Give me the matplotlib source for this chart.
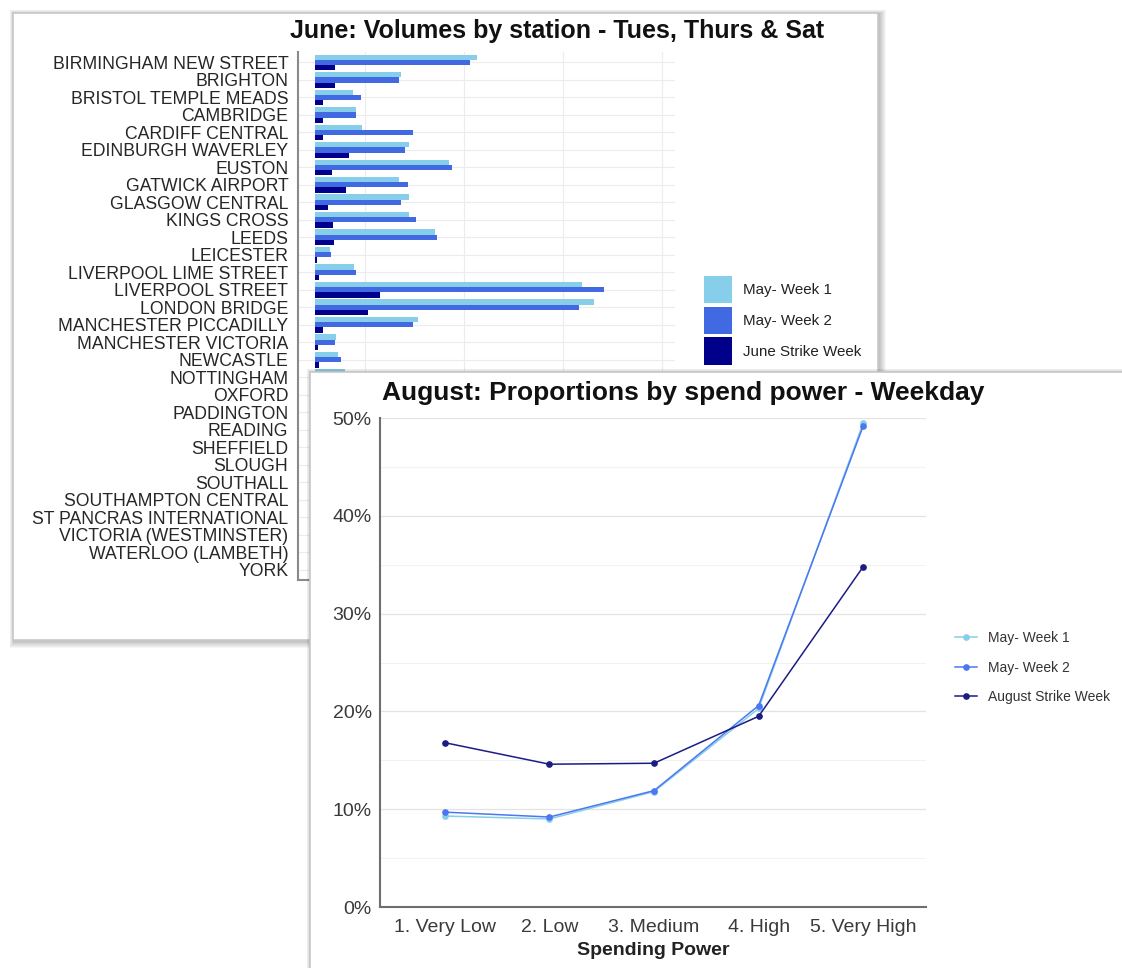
import matplotlib
matplotlib.use("Agg")
import matplotlib.pyplot as plt
import numpy as np
from matplotlib.patches import Rectangle, Patch
from matplotlib.lines import Line2D

plt.rcParams['font.family'] = ['Liberation Sans', 'DejaVu Sans']

W, H = 1122, 968

# ---- June: volumes by station (thousands) ----
stations = ["BIRMINGHAM NEW STREET", "BRIGHTON", "BRISTOL TEMPLE MEADS", "CAMBRIDGE",
            "CARDIFF CENTRAL", "EDINBURGH WAVERLEY", "EUSTON", "GATWICK AIRPORT",
            "GLASGOW CENTRAL", "KINGS CROSS", "LEEDS", "LEICESTER",
            "LIVERPOOL LIME STREET", "LIVERPOOL STREET", "LONDON BRIDGE",
            "MANCHESTER PICCADILLY", "MANCHESTER VICTORIA", "NEWCASTLE", "NOTTINGHAM",
            "OXFORD", "PADDINGTON", "READING", "SHEFFIELD", "SLOUGH", "SOUTHALL",
            "SOUTHAMPTON CENTRAL", "ST PANCRAS INTERNATIONAL", "VICTORIA (WESTMINSTER)",
            "WATERLOO (LAMBETH)", "YORK"]
may_week1 = [81.8, 43.5, 19.1, 20.6, 23.8, 47.7, 67.9, 42.3, 47.3, 47.7, 60.6, 7.4,
             19.7, 134.7, 140.9, 52.2, 10.8, 11.8, 15.2,
             16, 95, 60, 25, 10, 8, 15, 80, 160, 168, 30]
may_week2 = [78.3, 42.5, 23.4, 20.6, 49.4, 45.3, 69.1, 47.2, 43.5, 51.0, 61.6, 7.9,
             20.6, 145.7, 133.5, 49.4, 10.1, 13.0, 14,
             17, 100, 62, 24, 10, 8, 16, 78, 155, 173, 28]
june_strike = [10.1, 10.1, 3.9, 4.2, 3.9, 17.0, 8.4, 15.4, 6.6, 9.0, 9.8, 0.9,
               2.2, 33.0, 26.6, 4.2, 1.4, 2.2, 2,
               3, 20, 12, 3, 1, 1, 3, 25, 40, 38, 5]
bar_labels = ["May- Week 1", "May- Week 2", "June Strike Week"]
bar_colors = ["#87CEEB", "#4169E1", "#00008B"]

# ---- August: proportions by spend power ----
spend_levels = ["1. Very Low", "2. Low", "3. Medium", "4. High", "5. Very High"]
aug_week1 = [0.093, 0.090, 0.118, 0.203, 0.495]
aug_week2 = [0.097, 0.092, 0.119, 0.206, 0.492]
aug_strike = [0.168, 0.146, 0.147, 0.195, 0.348]
line_labels = ["May- Week 1", "May- Week 2", "August Strike Week"]
line_colors = ["#87CEEB", "#4a78f0", "#1c1c85"]


def fbox(x0, y0, x1, y1):
    # pixel box (top-left origin) -> figure fraction rect
    return [x0 / W, 1 - y1 / H, (x1 - x0) / W, (y1 - y0) / H]


def frame(fig, x0, y0, x1, y1, z):
    # soft drop shadow then white card
    for i in range(7, 0, -1):
        b = fbox(x0 - i * 0.6 + 1, y0 - i * 0.6 + 1, x1 + i + 1, y1 + i + 1)
        fig.patches.append(Rectangle(b[:2], b[2], b[3], transform=fig.transFigure,
                                     facecolor="black", edgecolor="none",
                                     alpha=0.035, zorder=z - 0.1))
    b = fbox(x0, y0, x1, y1)
    fig.patches.append(Rectangle(b[:2], b[2], b[3], transform=fig.transFigure,
                                 facecolor="white", edgecolor="#c8c8c8", lw=1.2,
                                 zorder=z))


fig = plt.figure(figsize=(W / 100, H / 100), dpi=100)
fig.patch.set_facecolor("white")

# ---------- panel 1 ----------
frame(fig, 13, 13, 878, 640, -1)
ax1 = fig.add_axes(fbox(298, 52, 675, 580))
ax1.set_zorder(0)
ax1.set_facecolor("none")
y = np.arange(len(stations))
h = 0.3
for vals, off, c, lab in zip([may_week1, may_week2, june_strike], [-h, 0, h],
                             bar_colors, bar_labels):
    ax1.barh(y + off, vals, height=h, color=c, label=lab, zorder=2)
ax1.set_ylim(len(stations) - 0.4, -0.6)
ax1.set_xlim(-8.6, 181.8)
ax1.set_yticks(y)
ax1.set_yticklabels(stations, fontsize=12.7, color="#262626")
ax1.set_xticks([25, 75, 125, 175])
ax1.set_xticklabels([])
ax1.tick_params(length=0, pad=7)
ax1.grid(True, color="#ececec", lw=0.8, zorder=0)
for s in ["top", "right"]:
    ax1.spines[s].set_visible(False)
for s in ["left", "bottom"]:
    ax1.spines[s].set_color("#8a8a8a")
    ax1.spines[s].set_linewidth(1.5)

t1 = fig.text(557 / W, 1 - 31 / H, "June: Volumes by station - Tues, Thurs & Sat",
              ha="center", va="center", fontsize=18, fontweight="bold", color="#111111")
t1.set_zorder(0.5)

h1 = [Patch(facecolor=c, edgecolor="none") for c in bar_colors]
leg1 = fig.legend(h1, bar_labels, loc="upper left",
                  bbox_to_anchor=(704 / W, 1 - 276 / H), bbox_transform=fig.transFigure,
                  frameon=False, fontsize=10.9, handlelength=1.85, handleheight=2.4,
                  labelspacing=0.22, handletextpad=0.7, borderpad=0, borderaxespad=0)
for t in leg1.get_texts():
    t.set_color("#222222")
leg1.set_zorder(0.6)

# ---------- panel 2 ----------
frame(fig, 310, 372, 1140, 1000, 1)
ax2 = fig.add_axes(fbox(380, 418, 926, 907))
ax2.set_zorder(2)
ax2.set_facecolor("none")
x = np.arange(len(spend_levels))
for vals, c, lab in zip([aug_week1, aug_week2, aug_strike], line_colors, line_labels):
    ax2.plot(x, vals, color=c, lw=1.1, marker="o", markersize=3.8, label=lab, zorder=3)
ax2.set_xlim(-0.62, 4.6)
ax2.set_ylim(0, 0.5)
ax2.set_xticks(x)
ax2.set_xticklabels(spend_levels, fontsize=14, color="#3a3a3a")
ax2.set_yticks(np.arange(0, 0.51, 0.1))
ax2.set_yticklabels([f"{int(v * 100)}%" for v in np.arange(0, 0.51, 0.1).round(2)],
                    fontsize=14, color="#3a3a3a")
ax2.set_yticks(np.arange(0.05, 0.5, 0.1), minor=True)
ax2.tick_params(which="both", length=0, pad=6)
ax2.tick_params(axis="x", pad=9)
ax2.grid(True, axis="y", which="major", color="#e3e3e3", lw=0.9, zorder=0)
ax2.grid(True, axis="y", which="minor", color="#f2f2f2", lw=0.8, zorder=0)
for s in ["top", "right"]:
    ax2.spines[s].set_visible(False)
for s in ["left", "bottom"]:
    ax2.spines[s].set_color("#6e6e6e")
    ax2.spines[s].set_linewidth(1.5)
ax2.set_xlabel("Spending Power", fontsize=14, fontweight="bold", color="#222222",
               labelpad=4)

t2 = fig.text(683 / W, 1 - 393 / H, "August: Proportions by spend power - Weekday",
              ha="center", va="center", fontsize=19, fontweight="bold", color="#111111")
t2.set_zorder(3)

h2 = [Line2D([], [], color=c, lw=1.1, marker="o", markersize=3.8) for c in line_colors]
leg2 = fig.legend(h2, line_labels, loc="upper left",
                  bbox_to_anchor=(955 / W, 1 - 631 / H), bbox_transform=fig.transFigure,
                  frameon=False, fontsize=10, handlelength=1.6, labelspacing=1.12,
                  handletextpad=0.8, borderpad=0, borderaxespad=0)
for t in leg2.get_texts():
    t.set_color("#333333")
leg2.set_zorder(3)

fig.savefig("out.png", dpi=100, facecolor="white")
